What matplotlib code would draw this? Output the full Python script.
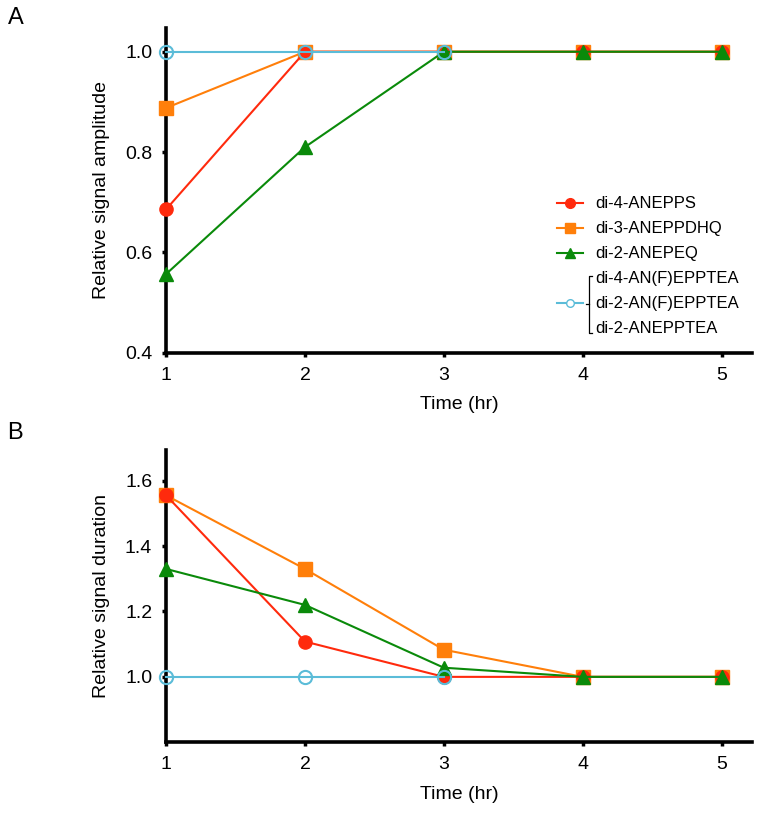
import matplotlib
matplotlib.use("Agg")
import matplotlib.pyplot as plt
from matplotlib.lines import Line2D

plt.rcParams['font.family'] = ['Liberation Sans', 'DejaVu Sans']

# --- DATOS ---
horas = [1, 2, 3, 4, 5]
horas_epptea = [1, 2, 3]

amp_di4_anepps = [0.686, 1.0, 1.0, 1.0, 1.0]
amp_di3_aneppdhq = [0.888, 1.0, 1.0, 1.0, 1.0]
amp_di2_anepeq = [0.557, 0.810, 1.0, 1.0, 1.0]
amp_epptea = [1.0, 1.0, 1.0]

dur_di4_anepps = [1.555, 1.108, 1.0, 1.0, 1.0]
dur_di3_aneppdhq = [1.555, 1.330, 1.083, 1.0, 1.0]
dur_di2_anepeq = [1.330, 1.220, 1.028, 1.0, 1.0]
dur_epptea = [1.0, 1.0, 1.0]

etiquetas = ["di-4-ANEPPS", "di-3-ANEPPDHQ", "di-2-ANEPEQ",
             "di-4-AN(F)EPPTEA", "di-2-AN(F)EPPTEA", "di-2-ANEPPTEA"]

# --- ESTILOS ---
ROJO = "#ff2a0d"
NARANJA = "#ff7f0a"
VERDE = "#0a8a0a"
CIAN = "#5bbcd8"
FS_TICK = 14
FS_LABEL = 14
FS_LEG = 12


def dibujar_panel(ax, rojo, naranja, verde, cian):
    comun = dict(lw=1.5, clip_on=False)
    ax.plot(horas, naranja, color=NARANJA, marker="s", ms=10.5, zorder=4, **comun)
    ax.plot(horas, rojo, color=ROJO, marker="o", ms=9.5, zorder=5, **comun)
    ax.plot(horas, verde, color=VERDE, marker="^", ms=10.5, zorder=6, **comun)
    ax.plot(horas_epptea, cian, color=CIAN, marker="o", ms=9.5, mfc="none",
            mec=CIAN, mew=1.5, zorder=7, **comun)

    for lado in ["top", "right"]:
        ax.spines[lado].set_visible(False)
    for lado in ["left", "bottom"]:
        ax.spines[lado].set_linewidth(2.6)
    ax.tick_params(direction="out", length=3, width=2.5, labelsize=FS_TICK, pad=7)
    ax.set_xlim(1, 5.22)
    ax.set_xticks(horas)
    ax.set_xlabel("Time (hr)", fontsize=FS_LABEL, labelpad=9)


fig = plt.figure(figsize=(7.62, 8.13), dpi=100)
ax_a = fig.add_axes([0.218, 0.566, 0.769, 0.400])
ax_b = fig.add_axes([0.218, 0.087, 0.769, 0.360])

# Panel A
dibujar_panel(ax_a, amp_di4_anepps, amp_di3_aneppdhq, amp_di2_anepeq, amp_epptea)
ax_a.set_ylim(0.4, 1.048)
ax_a.set_yticks([0.4, 0.6, 0.8, 1.0])
ax_a.set_yticklabels(["0.4", "0.6", "0.8", "1.0"])
ax_a.set_ylabel("Relative signal amplitude", fontsize=FS_LABEL, labelpad=11)

# Panel B
dibujar_panel(ax_b, dur_di4_anepps, dur_di3_aneppdhq, dur_di2_anepeq, dur_epptea)
ax_b.set_ylim(0.8, 1.695)
ax_b.set_yticks([1.0, 1.2, 1.4, 1.6])
ax_b.set_yticklabels(["1.0", "1.2", "1.4", "1.6"])
ax_b.set_ylabel("Relative signal duration", fontsize=FS_LABEL, labelpad=11)

fig.text(0.010, 0.978, "A", fontsize=17, va="center")
fig.text(0.010, 0.468, "B", fontsize=17, va="center")

# --- LEYENDA ---
vacio = Line2D([], [], ls="none", marker=None)
manijas = [
    Line2D([], [], color=ROJO, marker="o", ms=7, lw=1.5),
    Line2D([], [], color=NARANJA, marker="s", ms=7, lw=1.5),
    Line2D([], [], color=VERDE, marker="^", ms=7, lw=1.5),
    vacio,
    Line2D([], [], color=CIAN, marker="o", ms=5.5, mfc="white", mec=CIAN, lw=1.5),
    vacio,
]
leg = ax_a.legend(manijas, etiquetas, loc="upper left",
                  bbox_to_anchor=(0.667, 0.481), frameon=False, fontsize=FS_LEG,
                  handlelength=1.55, handletextpad=0.75, labelspacing=0.6,
                  borderpad=0, borderaxespad=0)

# corchete del grupo EPPTEA
fig.canvas.draw()
textos = leg.get_texts()
inv = fig.transFigure.inverted()
bb_sup = textos[3].get_window_extent()
bb_med = textos[4].get_window_extent()
bb_inf = textos[5].get_window_extent()
xb = bb_med.x0 - 6
y_top = bb_sup.y1 - 5
y_bot = bb_inf.y0 + 3
y_mid = (bb_med.y0 + bb_med.y1) / 2
puntos = [(xb + 3, y_top), (xb, y_top), (xb, y_bot), (xb + 3, y_bot)]
pf = [inv.transform(p) for p in puntos]
fig.add_artist(Line2D([p[0] for p in pf], [p[1] for p in pf], color="black", lw=0.9))
pm = [inv.transform((xb - 3, y_mid)), inv.transform((xb, y_mid))]
fig.add_artist(Line2D([p[0] for p in pm], [p[1] for p in pm], color="black", lw=0.9))

fig.savefig("out.png", dpi=100)
